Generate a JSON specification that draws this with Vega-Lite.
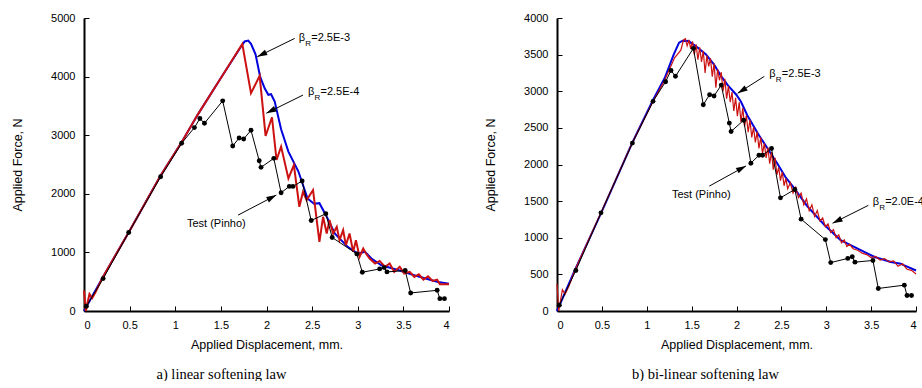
{
  "$schema": "https://vega.github.io/schema/vega-lite/v6.json",
  "autosize": {"type": "pad"},
  "padding": {"left": 11, "top": 12, "right": 0, "bottom": 0},
  "background": "white",
  "bounds": "flush",
  "spacing": 108,
  "config": {
    "view": {"stroke": null},
    "axis": {"domainColor": "black", "domainWidth": 2, "tickColor": "black", "tickSize": -5, "tickWidth": 1, "labelFont": "Liberation Sans", "labelFontSize": 11, "labelColor": "black", "titleFont": "Liberation Sans", "titleFontSize": 12.5, "titleFontWeight": "normal", "titleColor": "black", "grid": false},
    "axisX": {"labelPadding": 13},
    "axisY": {"labelPadding": 14},
    "title": {"font": "Liberation Serif", "fontSize": 14.5, "fontWeight": "normal", "color": "black"}
  },
  "datasets": {
    "test": [
      {"x": 0.026, "y": 80}, {"x": 0.21, "y": 553}, {"x": 0.49, "y": 1340}, {"x": 0.84, "y": 2292}, {"x": 1.07, "y": 2862},
      {"x": 1.21, "y": 3130}, {"x": 1.27, "y": 3284}, {"x": 1.32, "y": 3204}, {"x": 1.52, "y": 3586}, {"x": 1.63, "y": 2816},
      {"x": 1.70, "y": 2953}, {"x": 1.75, "y": 2936}, {"x": 1.83, "y": 3084}, {"x": 1.92, "y": 2565}, {"x": 1.94, "y": 2451},
      {"x": 2.08, "y": 2605}, {"x": 2.16, "y": 2018}, {"x": 2.25, "y": 2126}, {"x": 2.29, "y": 2126}, {"x": 2.39, "y": 2218},
      {"x": 2.49, "y": 1545}, {"x": 2.65, "y": 1659}, {"x": 2.72, "y": 1254}, {"x": 2.99, "y": 975}, {"x": 3.05, "y": 661},
      {"x": 3.24, "y": 718}, {"x": 3.29, "y": 741}, {"x": 3.32, "y": 667}, {"x": 3.52, "y": 690}, {"x": 3.58, "y": 308},
      {"x": 3.87, "y": 353}, {"x": 3.90, "y": 211}, {"x": 3.95, "y": 211}
    ],
    "left_blue": [
      {"x": 0, "y": 0}, {"x": 0.2, "y": 560}, {"x": 0.5, "y": 1370}, {"x": 0.84, "y": 2310}, {"x": 1.07, "y": 2880},
      {"x": 1.25, "y": 3360}, {"x": 1.5, "y": 3975}, {"x": 1.72, "y": 4510}, {"x": 1.76, "y": 4600}, {"x": 1.80, "y": 4615},
      {"x": 1.83, "y": 4560}, {"x": 1.88, "y": 4380}, {"x": 1.93, "y": 4000}, {"x": 1.98, "y": 3800}, {"x": 2.02, "y": 3690},
      {"x": 2.05, "y": 3700}, {"x": 2.09, "y": 3575}, {"x": 2.16, "y": 3100}, {"x": 2.24, "y": 2720}, {"x": 2.35, "y": 2380},
      {"x": 2.45, "y": 1920}, {"x": 2.52, "y": 1830}, {"x": 2.58, "y": 1840}, {"x": 2.66, "y": 1610}, {"x": 2.75, "y": 1320},
      {"x": 2.89, "y": 1095}, {"x": 3.0, "y": 980}, {"x": 3.08, "y": 1010}, {"x": 3.15, "y": 895}, {"x": 3.26, "y": 780},
      {"x": 3.44, "y": 700}, {"x": 3.62, "y": 610}, {"x": 3.81, "y": 525}, {"x": 3.88, "y": 495}, {"x": 4.0, "y": 467}
    ],
    "left_red": [
      {"x": 0, "y": 350}, {"x": 0.02, "y": 0}, {"x": 0.04, "y": 150}, {"x": 0.06, "y": 290}, {"x": 0.09, "y": 220},
      {"x": 0.13, "y": 330}, {"x": 0.2, "y": 560}, {"x": 0.5, "y": 1370}, {"x": 0.84, "y": 2310}, {"x": 1.07, "y": 2880},
      {"x": 1.25, "y": 3360}, {"x": 1.5, "y": 3975}, {"x": 1.735, "y": 4555}, {"x": 1.83, "y": 3717}, {"x": 1.925, "y": 4013},
      {"x": 1.99, "y": 2987}, {"x": 2.06, "y": 3306}, {"x": 2.11, "y": 2577}, {"x": 2.16, "y": 2805}, {"x": 2.24, "y": 2263},
      {"x": 2.30, "y": 2491}, {"x": 2.36, "y": 1779}, {"x": 2.40, "y": 2035}, {"x": 2.44, "y": 1893}, {"x": 2.51, "y": 2064},
      {"x": 2.58, "y": 1180}, {"x": 2.62, "y": 1608}, {"x": 2.66, "y": 1323}, {"x": 2.69, "y": 1551}, {"x": 2.73, "y": 1323},
      {"x": 2.77, "y": 1437}, {"x": 2.80, "y": 1209}, {"x": 2.84, "y": 1380}, {"x": 2.87, "y": 1123}, {"x": 2.91, "y": 1323},
      {"x": 2.95, "y": 1009}, {"x": 2.98, "y": 1209}, {"x": 3.02, "y": 924}, {"x": 3.06, "y": 1066}, {"x": 3.09, "y": 981},
      {"x": 3.13, "y": 895}, {"x": 3.19, "y": 810}, {"x": 3.24, "y": 855}, {"x": 3.30, "y": 753}, {"x": 3.35, "y": 810},
      {"x": 3.40, "y": 667}, {"x": 3.46, "y": 753}, {"x": 3.51, "y": 639}, {"x": 3.57, "y": 667}, {"x": 3.62, "y": 582},
      {"x": 3.67, "y": 627}, {"x": 3.72, "y": 536}, {"x": 3.77, "y": 593}, {"x": 3.82, "y": 513}, {"x": 3.87, "y": 536},
      {"x": 3.90, "y": 456}, {"x": 4.0, "y": 456}
    ],
    "right_blue": [
      {"x": 0, "y": 0}, {"x": 0.2, "y": 560}, {"x": 0.5, "y": 1360}, {"x": 0.84, "y": 2300}, {"x": 1.07, "y": 2880},
      {"x": 1.2, "y": 3180}, {"x": 1.3, "y": 3500}, {"x": 1.36, "y": 3663}, {"x": 1.40, "y": 3690}, {"x": 1.47, "y": 3686},
      {"x": 1.49, "y": 3663}, {"x": 1.57, "y": 3594}, {"x": 1.66, "y": 3502}, {"x": 1.75, "y": 3364}, {"x": 1.83, "y": 3203},
      {"x": 1.90, "y": 3087}, {"x": 2.0, "y": 2949}, {"x": 2.05, "y": 2857}, {"x": 2.12, "y": 2673}, {"x": 2.24, "y": 2419},
      {"x": 2.35, "y": 2212}, {"x": 2.46, "y": 2004}, {"x": 2.55, "y": 1820}, {"x": 2.64, "y": 1682}, {"x": 2.79, "y": 1428},
      {"x": 2.98, "y": 1175}, {"x": 3.16, "y": 968}, {"x": 3.35, "y": 852}, {"x": 3.54, "y": 737}, {"x": 3.72, "y": 668},
      {"x": 3.83, "y": 645}, {"x": 3.87, "y": 622}, {"x": 4.0, "y": 553}
    ],
    "right_red": [
      {"x": 0, "y": 370}, {"x": 0.02, "y": 0}, {"x": 0.04, "y": 150}, {"x": 0.06, "y": 290}, {"x": 0.09, "y": 230},
      {"x": 0.13, "y": 330}, {"x": 0.2, "y": 560}, {"x": 0.5, "y": 1370}, {"x": 0.84, "y": 2300}, {"x": 1.07, "y": 2860},
      {"x": 1.2, "y": 3150}, {"x": 1.31, "y": 3456}, {"x": 1.38, "y": 3560}, {"x": 1.41, "y": 3700},
      {"x": 1.43, "y": 3718}, {"x": 1.45, "y": 3620}, {"x": 1.47, "y": 3700}, {"x": 1.49, "y": 3580}, {"x": 1.51, "y": 3680},
      {"x": 1.53, "y": 3500}, {"x": 1.55, "y": 3640}, {"x": 1.57, "y": 3430}, {"x": 1.59, "y": 3600}, {"x": 1.61, "y": 3400},
      {"x": 1.63, "y": 3550}, {"x": 1.65, "y": 3250}, {"x": 1.67, "y": 3490}, {"x": 1.69, "y": 3340}, {"x": 1.71, "y": 3450},
      {"x": 1.73, "y": 3200}, {"x": 1.75, "y": 3380}, {"x": 1.77, "y": 3050}, {"x": 1.79, "y": 3300}, {"x": 1.81, "y": 3150},
      {"x": 1.83, "y": 3260}, {"x": 1.85, "y": 3000}, {"x": 1.87, "y": 3170}, {"x": 1.89, "y": 2900}, {"x": 1.91, "y": 3070},
      {"x": 1.93, "y": 2850}, {"x": 1.95, "y": 2990}, {"x": 1.97, "y": 2730}, {"x": 1.99, "y": 2910}, {"x": 2.01, "y": 2660},
      {"x": 2.03, "y": 2850}, {"x": 2.05, "y": 2580}, {"x": 2.07, "y": 2770}, {"x": 2.09, "y": 2520}, {"x": 2.11, "y": 2670},
      {"x": 2.13, "y": 2440}, {"x": 2.15, "y": 2610}, {"x": 2.17, "y": 2370}, {"x": 2.19, "y": 2510}, {"x": 2.21, "y": 2300},
      {"x": 2.23, "y": 2450}, {"x": 2.25, "y": 2220}, {"x": 2.27, "y": 2370}, {"x": 2.29, "y": 2150}, {"x": 2.31, "y": 2290},
      {"x": 2.33, "y": 2090}, {"x": 2.35, "y": 2230}, {"x": 2.37, "y": 2010}, {"x": 2.39, "y": 2170}, {"x": 2.41, "y": 1930},
      {"x": 2.43, "y": 2090}, {"x": 2.45, "y": 1860}, {"x": 2.47, "y": 1960}, {"x": 2.49, "y": 1780}, {"x": 2.51, "y": 1900},
      {"x": 2.53, "y": 1710}, {"x": 2.55, "y": 1810}, {"x": 2.57, "y": 1670}, {"x": 2.60, "y": 1750}, {"x": 2.63, "y": 1610},
      {"x": 2.66, "y": 1690}, {"x": 2.69, "y": 1550}, {"x": 2.72, "y": 1610}, {"x": 2.75, "y": 1450}, {"x": 2.78, "y": 1530},
      {"x": 2.81, "y": 1370}, {"x": 2.84, "y": 1450}, {"x": 2.87, "y": 1290}, {"x": 2.90, "y": 1370}, {"x": 2.93, "y": 1230},
      {"x": 2.96, "y": 1270}, {"x": 2.99, "y": 1150}, {"x": 3.02, "y": 1190}, {"x": 3.05, "y": 1070}, {"x": 3.08, "y": 1110},
      {"x": 3.11, "y": 1000}, {"x": 3.14, "y": 1040}, {"x": 3.17, "y": 930}, {"x": 3.20, "y": 970}, {"x": 3.23, "y": 880},
      {"x": 3.26, "y": 910}, {"x": 3.30, "y": 850}, {"x": 3.35, "y": 830}, {"x": 3.40, "y": 790}, {"x": 3.45, "y": 770},
      {"x": 3.50, "y": 730}, {"x": 3.55, "y": 745}, {"x": 3.60, "y": 695}, {"x": 3.65, "y": 715}, {"x": 3.70, "y": 670},
      {"x": 3.75, "y": 685}, {"x": 3.80, "y": 610}, {"x": 3.85, "y": 645}, {"x": 3.90, "y": 570}, {"x": 3.95, "y": 555},
      {"x": 4.0, "y": 505}
    ],
    "left_labels": [
      {"x": 2.353, "y": 4659, "beta": "β", "sub": "R", "rest": "=2.5E-3"},
      {"x": 2.455, "y": 3741, "beta": "β", "sub": "R", "rest": "=2.5E-4"}
    ],
    "right_labels": [
      {"x": 2.366, "y": 3239, "beta": "β", "sub": "R", "rest": "=2.5E-3"},
      {"x": 3.517, "y": 1488, "beta": "β", "sub": "R", "rest": "=2.0E-4"}
    ],
    "left_test_label": [{"x": 1.45, "y": 1484, "text": "Test (Pinho)"}],
    "right_test_label": [{"x": 1.608, "y": 1590, "text": "Test (Pinho)"}],
    "left_arrows": [
      {"id": "a1", "x": 2.309, "y": 4652, "x2": 1.899, "y2": 4339},
      {"id": "a2", "x": 2.40, "y": 3685, "x2": 1.998, "y2": 3375},
      {"id": "a3", "x": 1.688, "y": 1636, "x2": 2.108, "y2": 1978}
    ],
    "right_arrows": [
      {"id": "b1", "x": 2.310, "y": 3203, "x2": 2.013, "y2": 2972},
      {"id": "b2", "x": 3.469, "y": 1442, "x2": 3.071, "y2": 1198},
      {"id": "b3", "x": 1.697, "y": 1705, "x2": 2.106, "y2": 1981}
    ]
  },
  "hconcat": [
    {
      "width": 365,
      "height": 293,
      "title": {"text": "a) linear softening law", "orient": "bottom", "anchor": "middle", "dx": -45, "offset": 17},
      "encoding": {
        "x": {"field": "x", "type": "quantitative", "scale": {"domain": [0, 4], "nice": false}, "axis": {"title": "Applied Displacement, mm.", "format": "~g", "values": [0, 0.5, 1, 1.5, 2, 2.5, 3, 3.5, 4], "titlePadding": 8}},
        "y": {"field": "y", "type": "quantitative", "scale": {"domain": [0, 5000], "nice": false}, "axis": {"title": "Applied Force, N", "format": "d", "values": [0, 1000, 2000, 3000, 4000, 5000], "titlePadding": 26}}
      },
      "layer": [
        {"data": {"name": "left_blue"}, "mark": {"type": "line", "color": "#0000dd", "strokeWidth": 2}},
        {"data": {"name": "left_red"}, "mark": {"type": "line", "color": "#cc1111", "strokeWidth": 2}},
        {"data": {"name": "test"}, "mark": {"type": "line", "color": "black", "strokeWidth": 1, "point": {"filled": true, "color": "black", "size": 24}}},
        {"data": {"name": "left_arrows"}, "mark": {"type": "rule", "color": "black", "strokeWidth": 1}, "encoding": {"x2": {"field": "x2"}, "y2": {"field": "y2"}}},
        {"data": {"name": "left_arrows"}, "transform": [{"filter": "datum.id == 'a1'"}], "mark": {"type": "point", "shape": "M0,0L-1,-0.3L-1,0.3Z", "size": 400, "filled": true, "color": "black", "opacity": 1, "angle": 153.9}, "encoding": {"x": {"field": "x2", "type": "quantitative"}, "y": {"field": "y2", "type": "quantitative"}}},
        {"data": {"name": "left_arrows"}, "transform": [{"filter": "datum.id == 'a2'"}], "mark": {"type": "point", "shape": "M0,0L-1,-0.3L-1,0.3Z", "size": 400, "filled": true, "color": "black", "opacity": 1, "angle": 153.5}, "encoding": {"x": {"field": "x2", "type": "quantitative"}, "y": {"field": "y2", "type": "quantitative"}}},
        {"data": {"name": "left_arrows"}, "transform": [{"filter": "datum.id == 'a3'"}], "mark": {"type": "point", "shape": "M0,0L-1,-0.3L-1,0.3Z", "size": 400, "filled": true, "color": "black", "opacity": 1, "angle": 332.4}, "encoding": {"x": {"field": "x2", "type": "quantitative"}, "y": {"field": "y2", "type": "quantitative"}}},
        {"data": {"name": "left_labels"}, "mark": {"type": "text", "align": "left", "baseline": "middle", "font": "Liberation Sans", "fontSize": 11, "color": "black"}, "encoding": {"text": {"field": "beta"}}},
        {"data": {"name": "left_labels"}, "mark": {"type": "text", "align": "left", "baseline": "middle", "font": "Liberation Sans", "fontSize": 8, "color": "black", "dx": 6.5, "dy": 6}, "encoding": {"text": {"field": "sub"}}},
        {"data": {"name": "left_labels"}, "mark": {"type": "text", "align": "left", "baseline": "middle", "font": "Liberation Sans", "fontSize": 11, "color": "black", "dx": 12.5}, "encoding": {"text": {"field": "rest"}}},
        {"data": {"name": "left_test_label"}, "mark": {"type": "text", "align": "center", "baseline": "middle", "font": "Liberation Sans", "fontSize": 11, "color": "black"}, "encoding": {"text": {"field": "text"}}}
      ]
    },
    {
      "width": 359,
      "height": 293,
      "title": {"text": "b) bi-linear softening law", "orient": "bottom", "anchor": "middle", "dx": -31, "offset": 17},
      "encoding": {
        "x": {"field": "x", "type": "quantitative", "scale": {"domain": [0, 4], "nice": false}, "axis": {"title": "Applied Displacement, mm.", "format": "~g", "values": [0, 0.5, 1, 1.5, 2, 2.5, 3, 3.5, 4], "titlePadding": 8}},
        "y": {"field": "y", "type": "quantitative", "scale": {"domain": [0, 4000], "nice": false}, "axis": {"title": "Applied Force, N", "format": "d", "values": [0, 500, 1000, 1500, 2000, 2500, 3000, 3500, 4000], "titlePadding": 26}}
      },
      "layer": [
        {"data": {"name": "right_blue"}, "mark": {"type": "line", "color": "#0000dd", "strokeWidth": 2}},
        {"data": {"name": "right_red"}, "mark": {"type": "line", "color": "#cc1111", "strokeWidth": 1.2}},
        {"data": {"name": "test"}, "mark": {"type": "line", "color": "black", "strokeWidth": 1, "point": {"filled": true, "color": "black", "size": 24}}},
        {"data": {"name": "right_arrows"}, "mark": {"type": "rule", "color": "black", "strokeWidth": 1}, "encoding": {"x2": {"field": "x2"}, "y2": {"field": "y2"}}},
        {"data": {"name": "right_arrows"}, "transform": [{"filter": "datum.id == 'b1'"}], "mark": {"type": "point", "shape": "M0,0L-1,-0.3L-1,0.3Z", "size": 400, "filled": true, "color": "black", "opacity": 1, "angle": 147.7}, "encoding": {"x": {"field": "x2", "type": "quantitative"}, "y": {"field": "y2", "type": "quantitative"}}},
        {"data": {"name": "right_arrows"}, "transform": [{"filter": "datum.id == 'b2'"}], "mark": {"type": "point", "shape": "M0,0L-1,-0.3L-1,0.3Z", "size": 400, "filled": true, "color": "black", "opacity": 1, "angle": 153.4}, "encoding": {"x": {"field": "x2", "type": "quantitative"}, "y": {"field": "y2", "type": "quantitative"}}},
        {"data": {"name": "right_arrows"}, "transform": [{"filter": "datum.id == 'b3'"}], "mark": {"type": "point", "shape": "M0,0L-1,-0.3L-1,0.3Z", "size": 400, "filled": true, "color": "black", "opacity": 1, "angle": 331.2}, "encoding": {"x": {"field": "x2", "type": "quantitative"}, "y": {"field": "y2", "type": "quantitative"}}},
        {"data": {"name": "right_labels"}, "mark": {"type": "text", "align": "left", "baseline": "middle", "font": "Liberation Sans", "fontSize": 11, "color": "black"}, "encoding": {"text": {"field": "beta"}}},
        {"data": {"name": "right_labels"}, "mark": {"type": "text", "align": "left", "baseline": "middle", "font": "Liberation Sans", "fontSize": 8, "color": "black", "dx": 6.5, "dy": 6}, "encoding": {"text": {"field": "sub"}}},
        {"data": {"name": "right_labels"}, "mark": {"type": "text", "align": "left", "baseline": "middle", "font": "Liberation Sans", "fontSize": 11, "color": "black", "dx": 12.5}, "encoding": {"text": {"field": "rest"}}},
        {"data": {"name": "right_test_label"}, "mark": {"type": "text", "align": "center", "baseline": "middle", "font": "Liberation Sans", "fontSize": 11, "color": "black"}, "encoding": {"text": {"field": "text"}}}
      ]
    }
  ]
}
